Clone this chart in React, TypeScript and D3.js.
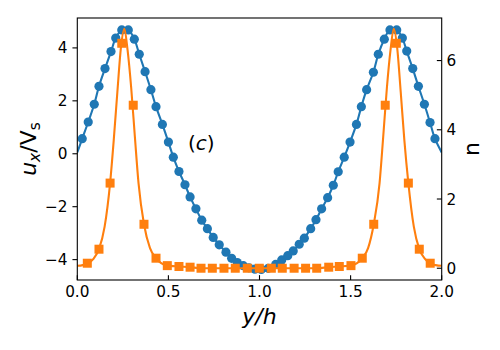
import React from "react";
import * as d3 from "d3";

// blue: u_x / V_s (left axis), circles + line
const uxX = [0.027, 0.060, 0.093, 0.119, 0.152, 0.185, 0.211, 0.244, 0.280, 0.313, 0.340, 0.372, 0.404, 0.432, 0.467, 0.500,
  0.527, 0.558, 0.591, 0.619, 0.651, 0.683, 0.714, 0.746, 0.779, 0.816, 0.847, 0.878, 0.911, 0.942, 0.975,
  1.010, 1.048, 1.089, 1.122, 1.155, 1.185, 1.218, 1.246, 1.281, 1.310, 1.341, 1.374, 1.405, 1.432, 1.465, 1.497,
  1.532, 1.559, 1.588, 1.625, 1.652, 1.685, 1.716, 1.753, 1.784, 1.808, 1.841, 1.872, 1.905, 1.936, 1.963];
const uxY = [0.57, 1.20, 1.87, 2.55, 3.22, 3.86, 4.37, 4.68, 4.68, 4.33, 3.76, 3.10, 2.42, 1.78, 1.11, 0.44,
  -0.13, -0.67, -1.17, -1.63, -2.08, -2.51, -2.83, -3.16, -3.44, -3.72, -3.95, -4.11, -4.23, -4.31, -4.36,
  -4.37, -4.33, -4.18, -4.01, -3.85, -3.67, -3.42, -3.19, -2.83, -2.49, -2.08, -1.66, -1.19, -0.68, -0.13, 0.44,
  1.11, 1.78, 2.42, 3.08, 3.76, 4.33, 4.68, 4.68, 4.37, 3.88, 3.22, 2.55, 1.87, 1.18, 0.57];
const uxEndX = [0, 2];
const uxEndY = [0.05, 0.05];

// orange: n (right axis), squares
const nX = [0.055, 0.119, 0.180, 0.244, 0.307, 0.366, 0.432, 0.494, 0.558, 0.619, 0.679, 0.741, 0.805, 0.867, 0.933,
  0.999, 1.065, 1.125, 1.190, 1.253, 1.314, 1.380, 1.438, 1.502, 1.564, 1.627, 1.690, 1.751, 1.817, 1.877, 1.937];
const nY = [0.145, 0.55, 2.46, 6.5, 4.71, 1.27, 0.29, 0.075, 0.05, 0.03, 0, 0, 0, 0, 0,
  0, 0, 0, 0, 0, 0, 0.03, 0.05, 0.075, 0.29, 1.27, 4.71, 6.5, 2.46, 0.55, 0.145];

// orange line
const nLineX = [0, 0.030, 0.055, 0.090, 0.119, 0.150, 0.180, 0.200, 0.220, 0.240, 0.258, 0.276, 0.296, 0.316, 0.336,
  0.366, 0.399, 0.432, 0.494, 0.558, 0.619, 0.679, 1.0, 1.314, 1.380, 1.438, 1.502, 1.564, 1.596, 1.627, 1.659,
  1.679, 1.699, 1.719, 1.737, 1.755, 1.775, 1.795, 1.817, 1.847, 1.877, 1.907, 1.937, 1.967, 2.0];
const nLineY = [0.07, 0.09, 0.14, 0.28, 0.55, 1.2, 2.46, 3.7, 5.1, 6.4, 6.92, 6.3, 5.2, 3.8, 2.46,
  1.27, 0.58, 0.29, 0.075, 0.05, 0.03, 0, 0, 0, 0.03, 0.05, 0.075, 0.29, 0.58, 1.27, 2.46,
  3.8, 5.2, 6.3, 6.92, 6.4, 5.1, 3.7, 2.46, 1.2, 0.55, 0.28, 0.14, 0.09, 0.07];

const xTicks = [0, 0.5, 1, 1.5, 2];
const leftTicks = [-4, -2, 0, 2, 4];
const rightTicks = [0, 2, 4, 6];

const BLUE = "#1f77b4";
const ORANGE = "#ff7f0e";
const FONT = "DejaVu Sans";

export default function App() {
  const L = 77.3, R = 441.7, T = 18, B = 280;
  const x = d3.scaleLinear().domain([0, 2]).range([L, R]);
  const yL = d3.scaleLinear().domain([-4.77, 5.13]).range([B, T]);
  const yR = d3.scaleLinear().domain([-0.34, 7.23]).range([B, T]);

  const uxLinePts: [number, number][] = [
    [uxEndX[0], uxEndY[0]],
    ...uxX.map((v, i) => [v, uxY[i]] as [number, number]),
    [uxEndX[1], uxEndY[1]],
  ];
  const uxLine = d3.line<[number, number]>()
    .x((d) => x(d[0]))
    .y((d) => yL(d[1]))
    .curve(d3.curveCatmullRom.alpha(0.5));

  const nLine = d3.line<number>()
    .x((_, i) => x(nLineX[i]))
    .y((d) => yR(d))
    .curve(d3.curveMonotoneX);

  const tick = 4.86;
  const fs = 15.3;
  const sq = 9;

  return (
    <svg width={500} height={350} style={{ position: "absolute", left: 0, top: 0, background: "#fff" }}
      fontFamily={FONT}>
      <defs>
        <clipPath id="plot">
          <rect x={L} y={T} width={R - L} height={B - T} />
        </clipPath>
      </defs>

      <g clipPath="url(#plot)">
        <path d={uxLine(uxLinePts) ?? ""} fill="none" stroke={BLUE} strokeWidth={2.1} />
        {uxX.map((v, i) => (
          <circle key={i} cx={x(v)} cy={yL(uxY[i])} r={4.6} fill={BLUE} />
        ))}
        <path d={nLine(nLineY) ?? ""} fill="none" stroke={ORANGE} strokeWidth={2.1} />
        {nX.map((v, i) => (
          <rect key={i} x={x(v) - sq / 2} y={yR(nY[i]) - sq / 2} width={sq} height={sq} fill={ORANGE} />
        ))}
      </g>

      <rect x={L} y={T} width={R - L} height={B - T} fill="none" stroke="#000" strokeWidth={1.1} />

      {/* bottom axis, ticks in */}
      {xTicks.map((t) => (
        <g key={t}>
          <line x1={x(t)} x2={x(t)} y1={B} y2={B - tick} stroke="#000" strokeWidth={1.1} />
          <text x={x(t)} y={B + tick + 12.5} fontSize={fs} textAnchor="middle">{t.toFixed(1)}</text>
        </g>
      ))}

      {/* left axis, ticks out */}
      {leftTicks.map((t) => (
        <g key={t}>
          <line x1={L - tick} x2={L} y1={yL(t)} y2={yL(t)} stroke="#000" strokeWidth={1.1} />
          <text x={L - 2 * tick} y={yL(t)} dy="0.36em" fontSize={fs} textAnchor="end">
            {t < 0 ? "\u2212" + Math.abs(t) : String(t)}
          </text>
        </g>
      ))}

      {/* right axis, ticks in */}
      {rightTicks.map((t) => (
        <g key={t}>
          <line x1={R - tick} x2={R} y1={yR(t)} y2={yR(t)} stroke="#000" strokeWidth={1.1} />
          <text x={R + tick} y={yR(t)} dy="0.36em" fontSize={fs} textAnchor="start">{t}</text>
        </g>
      ))}

      <text x={(L + R) / 2} y={324} fontSize={22} textAnchor="middle" fontStyle="italic">y/h</text>

      <text transform={`translate(36,${(T + B) / 2}) rotate(-90)`} fontSize={22} textAnchor="middle">
        <tspan fontStyle="italic">u</tspan>
        <tspan fontStyle="italic" fontSize={15.5} dy={4}>x</tspan>
        <tspan dy={-4}>/V</tspan>
        <tspan fontSize={15.5} dy={4}>s</tspan>
      </text>

      <text transform={`translate(479,${(T + B) / 2}) rotate(-90)`} fontSize={22} textAnchor="middle">n</text>

      <text x={188} y={149.5} fontSize={20}>
        (<tspan fontStyle="italic">c</tspan>)
      </text>
    </svg>
  );
}
